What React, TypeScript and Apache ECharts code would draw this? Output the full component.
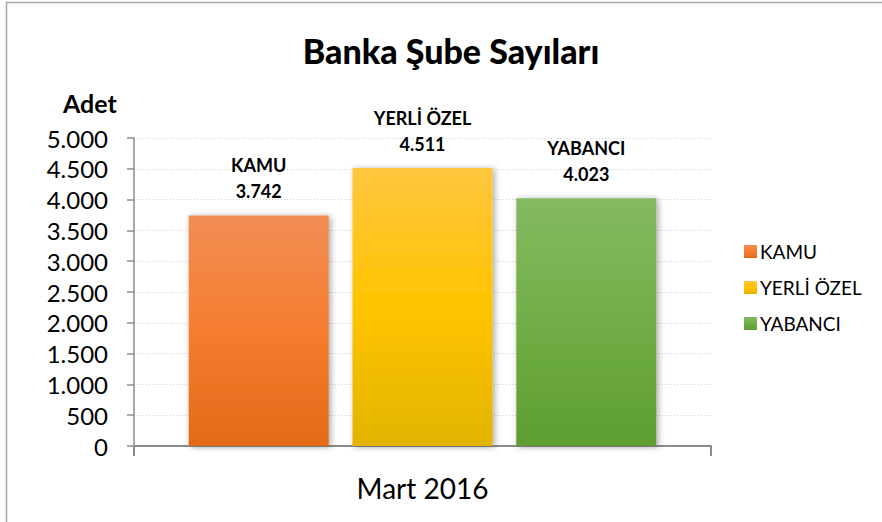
import React, { useEffect, useRef } from "react";
import * as echarts from "echarts";

const categories = ["Mart 2016"];
const seriesNames = ["KAMU", "YERLİ ÖZEL", "YABANCI"];
const kamuValues = [3742];
const yerliOzelValues = [4511];
const yabanciValues = [4023];
const yTicks = [0, 500, 1000, 1500, 2000, 2500, 3000, 3500, 4000, 4500, 5000];

const FONT = "Lato, 'Open Sans', sans-serif";

const fmt = (v: number) =>
  String(Math.round(v)).replace(/\B(?=(\d{3})+(?!\d))/g, ".");

const grad = (top: string, mid: string, bottom: string) =>
  new echarts.graphic.LinearGradient(0, 0, 0, 1, [
    { offset: 0, color: top },
    { offset: 0.5, color: mid },
    { offset: 1, color: bottom },
  ]);

export default function App() {
  const ref = useRef<HTMLDivElement>(null);
  useEffect(() => {
    if (!ref.current) return;
    const chart = echarts.init(ref.current, undefined, { renderer: "svg" });
    const colors = [
      grad("#F28D55", "#F47D2F", "#E36A18"),
      grad("#FFC63F", "#FFC400", "#E2B400"),
      grad("#84BA62", "#71AD47", "#5E9E32"),
    ];
    const values = [kamuValues, yerliOzelValues, yabanciValues];
    const series = seriesNames.map((name, i) => ({
      name,
      type: "bar",
      data: values[i],
      barWidth: 140,
      barGap: "17%",
      itemStyle: {
        color: colors[i],
        shadowBlur: 6,
        shadowColor: "rgba(0,0,0,0.35)",
        shadowOffsetX: 2,
        shadowOffsetY: 1,
      },
      label: {
        show: true,
        position: "top",
        distance: 11,
        formatter: (p: any) => `{n|${p.seriesName}}\n{n|${fmt(p.value)}}`,
        rich: {
          n: {
            fontFamily: FONT,
            fontWeight: "bold",
            fontSize: 18,
            lineHeight: 26,
            color: "#000",
          },
        },
      },
    }));
    chart.setOption({
      animation: false,
      backgroundColor: "#fff",
      title: {
        text: "Banka Şube Sayıları",
        left: 446,
        textAlign: "center",
        top: 28,
        textStyle: {
          fontFamily: FONT,
          fontWeight: 900,
          fontSize: 34,
          color: "#000",
        },
      },
      legend: {
        orient: "vertical",
        left: 739,
        top: 237,
        itemWidth: 13,
        itemHeight: 13,
        itemGap: 17,
        icon: "rect",
        data: seriesNames,
        textStyle: {
          fontFamily: FONT,
          fontSize: 19,
          color: "#000",
          padding: [0, 0, 0, -2],
        },
      },
      grid: { left: 134, right: 171, top: 138, bottom: 76 },
      xAxis: {
        type: "category",
        data: categories,
        axisLine: { lineStyle: { color: "#8C8C8C", width: 2 } },
        axisTick: { show: true, length: 10, lineStyle: { color: "#8C8C8C", width: 2 } },
        axisLabel: {
          fontFamily: FONT,
          fontSize: 28,
          color: "#000",
          margin: 28,
        },
      },
      yAxis: {
        type: "value",
        min: yTicks[0],
        max: yTicks[yTicks.length - 1],
        interval: 500,
        axisLine: { show: true, lineStyle: { color: "#8C8C8C", width: 1.5 } },
        axisTick: { show: true, length: 7, lineStyle: { color: "#8C8C8C", width: 1.5 } },
        axisLabel: {
          fontFamily: FONT,
          fontSize: 24,
          color: "#000",
          margin: 26,
          formatter: (v: number) => fmt(v),
        },
        splitLine: {
          show: true,
          lineStyle: { color: "#D0D0D0", type: [1, 2], width: 1 },
        },
      },
      graphic: [
        {
          type: "rect",
          shape: { x: 6.5, y: 2.5, width: 1000, height: 700 },
          style: { fill: "none", stroke: "#A6A6A6", lineWidth: 1.5 },
          silent: true,
          z: 100,
        },
        {
          type: "text",
          left: 63,
          top: 90,
          style: {
            text: "Adet",
            fontFamily: FONT,
            fontWeight: "bold",
            fontSize: 25,
            fill: "#000",
          },
        },
      ],
      series,
    });
    return () => chart.dispose();
  }, []);
  return (
    <div
      ref={ref}
      style={{ position: "fixed", left: 0, top: 0, width: 882, height: 522 }}
    />
  );
}
